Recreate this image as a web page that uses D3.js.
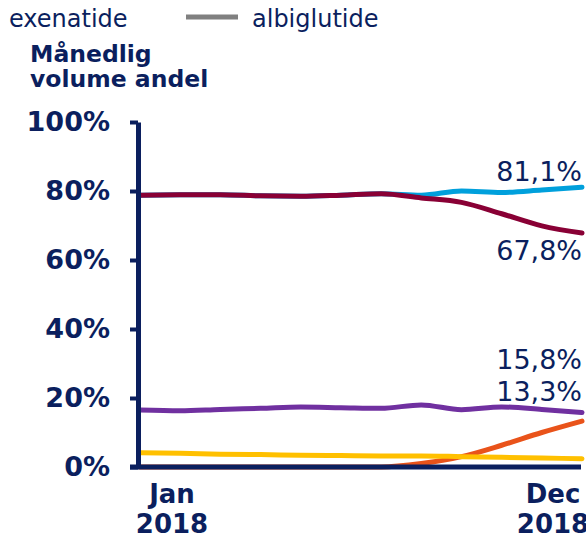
<!DOCTYPE html>
<html><head><meta charset="utf-8">
<script src="https://cdn.jsdelivr.net/npm/d3@7"></script>
<style>
html,body{margin:0;padding:0;background:#fff;}
svg{display:block;font-family:"DejaVu Sans",Verdana,sans-serif;}
</style></head>
<body>
<svg id="chart" width="586" height="535"></svg>
<script>
const months = ["Jan","Feb","Mar","Apr","May","Jun","Jul","Aug","Sep","Oct","Nov","Dec"];
const seriesBlue   = [78.8,78.9,78.9,78.6,78.5,78.8,79.2,78.8,80.0,79.6,80.3,81.1];
const seriesMaroon = [78.8,78.9,78.9,78.6,78.5,78.8,79.2,78.0,76.7,73.4,69.9,67.8];
const seriesPurple = [16.5,16.3,16.7,17.0,17.4,17.2,17.0,18.0,16.6,17.4,16.7,15.8];
const seriesYellow = [4.1,4.0,3.7,3.6,3.4,3.3,3.2,3.2,3.0,2.8,2.6,2.4];
const seriesOrange = [0,0,0,0,0,0,0,1.0,3.0,6.3,10.0,13.3];
const yTicks = [0,20,40,60,80,100];
const xLabels = [["Jan","2018"],["Dec","2018"]];
const endLabels = ["81,1%","67,8%","15,8%","13,3%"];
const legendNames = ["exenatide","albiglutide"];
const titleLines = ["Månedlig","volume andel"];

const navy = "#0b1f5e";
const svg = d3.select("#chart");
const x = d3.scalePoint().domain(months).range([140,582]);
const y = d3.scaleLinear().domain([0,100]).range([467,122]);

// legend
svg.append("text").attr("x",9).attr("y",27).attr("fill",navy).attr("font-size",24).text(legendNames[0]);
svg.append("line").attr("x1",186).attr("x2",238).attr("y1",17).attr("y2",17).attr("stroke","#808080").attr("stroke-width",5);
svg.append("text").attr("x",252).attr("y",27).attr("fill",navy).attr("font-size",24).text(legendNames[1]);

// title
titleLines.forEach((t,i)=>{
  svg.append("text").attr("x",30).attr("y",62+i*25).attr("fill",navy)
    .attr("font-size",23.5).attr("font-weight","bold").text(t);
});

const line = d3.line().x((d,i)=>x(months[i])).y(d=>y(d)).curve(d3.curveMonotoneX);
const series = [
  {v:seriesOrange,c:"#e9531a"},
  {v:seriesYellow,c:"#ffc000"},
  {v:seriesPurple,c:"#7030a0"},
  {v:seriesBlue,c:"#00a0dc"},
  {v:seriesMaroon,c:"#890035"}
];
series.forEach(s=>{
  svg.append("path").datum(s.v).attr("d",line).attr("fill","none")
    .attr("stroke",s.c).attr("stroke-width",5).attr("stroke-linecap","round");
});

// y axis
const yAxis = svg.append("g").attr("transform","translate(138,0)")
  .call(d3.axisLeft(y).tickValues(yTicks).tickSize(8).tickSizeOuter(0).tickPadding(20).tickFormat(d=>d+"%"));
yAxis.select(".domain").attr("stroke",navy).attr("stroke-width",5);
yAxis.selectAll(".tick line").attr("stroke",navy).attr("stroke-width",4);
yAxis.selectAll(".tick text").attr("fill",navy).attr("font-size",27).attr("font-weight","bold")
  .attr("font-family","DejaVu Sans, Verdana, sans-serif");

// x axis
svg.append("line").attr("x1",130).attr("x2",x.range()[1]-1).attr("y1",y(0)).attr("y2",y(0))
  .attr("stroke",navy).attr("stroke-width",5);
const xPos = [x(months[0])+32, x(months[11])-29];
xLabels.forEach((lab,i)=>{
  const t = svg.append("text").attr("text-anchor","middle").attr("fill",navy)
    .attr("font-size",26).attr("font-weight","bold");
  lab.forEach((s,j)=>{
    t.append("tspan").attr("x",xPos[i]).attr("y",503+j*30).text(s);
  });
});

// end labels
const endVals = [seriesBlue[11],seriesMaroon[11],seriesPurple[11],seriesOrange[11]];
const endOffsets = [-6,27,-43.5,-20];
endLabels.forEach((t,i)=>{
  svg.append("text").attr("x",582).attr("y",y(endVals[i])+endOffsets[i])
    .attr("text-anchor","end").attr("fill",navy).attr("font-size",27).text(t);
});
</script>
</body></html>
